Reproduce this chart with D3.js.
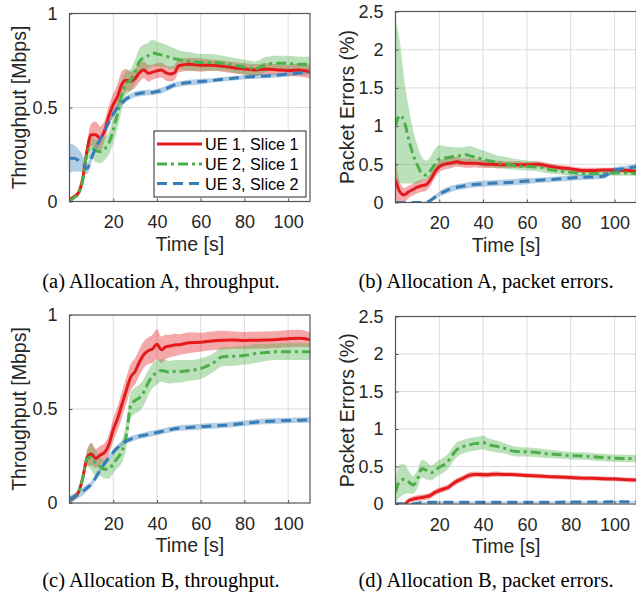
<!DOCTYPE html>
<html><head><meta charset="utf-8">
<script src="https://cdn.jsdelivr.net/npm/d3@7"></script>
<style>body{margin:0;background:#fff}svg{display:block}</style>
</head><body><svg id="chart" width="636" height="597"></svg>
<script>
// ---------- data ----------
const times = [0,2,4,6,8,10,12,14,16,18,20,22,24,26,28,30,32,34,36,38,40,42,44,46,48,50,55,60,65,70,75,80,85,90,95,100,105,110];
const seriesNames = ["UE 1, Slice 1","UE 2, Slice 1","UE 3, Slice 2"];
const xTicks = [20,40,60,80,100];
const thrTicks = [0,0.5,1];
const errTicks = [0,0.5,1,1.5,2,2.5];
const thrTickLabels = ["0","0.5","1"];
const errTickLabels = ["0","0.5","1","1.5","2","2.5"];
const captions = ["(a) Allocation A, throughput.","(b) Allocation A, packet errors.","(c) Allocation B, throughput.","(d) Allocation B, packet errors."];

// Allocation A, throughput [Mbps]
const thrA_ue1 = [0.01,0.025,0.045,0.12,0.27,0.355,0.355,0.335,0.375,0.455,0.515,0.56,0.625,0.645,0.64,0.655,0.685,0.70,0.682,0.688,0.695,0.70,0.685,0.678,0.685,0.722,0.73,0.725,0.725,0.72,0.712,0.705,0.70,0.705,0.70,0.697,0.70,0.69];
const thrA_ue1_sd = [0.01,0.01,0.015,0.025,0.045,0.06,0.07,0.065,0.055,0.055,0.06,0.065,0.07,0.06,0.05,0.05,0.05,0.045,0.045,0.04,0.04,0.04,0.04,0.04,0.04,0.035,0.035,0.035,0.03,0.03,0.03,0.03,0.03,0.03,0.03,0.03,0.035,0.035];
const thrA_ue2 = [0.0,0.02,0.04,0.11,0.26,0.29,0.27,0.265,0.28,0.31,0.38,0.47,0.57,0.63,0.645,0.69,0.745,0.765,0.775,0.79,0.785,0.78,0.775,0.765,0.76,0.755,0.745,0.74,0.74,0.735,0.725,0.715,0.705,0.73,0.735,0.735,0.73,0.73];
const thrA_ue2_sd = [0.01,0.01,0.015,0.03,0.045,0.055,0.06,0.06,0.06,0.06,0.07,0.08,0.08,0.065,0.06,0.065,0.07,0.07,0.07,0.07,0.065,0.065,0.06,0.06,0.055,0.05,0.05,0.045,0.045,0.04,0.04,0.04,0.04,0.04,0.04,0.04,0.04,0.04];
const thrA_ue3 = [0.23,0.23,0.22,0.2,0.175,0.23,0.285,0.33,0.375,0.42,0.465,0.50,0.525,0.545,0.56,0.57,0.575,0.578,0.58,0.58,0.585,0.59,0.60,0.61,0.62,0.625,0.633,0.638,0.643,0.65,0.655,0.662,0.665,0.668,0.672,0.677,0.683,0.69];
const thrA_ue3_sd = [0.08,0.07,0.06,0.045,0.03,0.025,0.02,0.018,0.016,0.015,0.015,0.015,0.015,0.015,0.015,0.015,0.015,0.015,0.015,0.015,0.015,0.015,0.015,0.015,0.015,0.015,0.015,0.015,0.012,0.012,0.012,0.012,0.012,0.012,0.012,0.012,0.012,0.012];

// Allocation A, packet errors [%]
const errA_ue1 = [0.30,0.14,0.10,0.14,0.17,0.20,0.22,0.235,0.30,0.40,0.47,0.50,0.51,0.52,0.535,0.52,0.515,0.515,0.515,0.51,0.505,0.50,0.50,0.498,0.495,0.495,0.495,0.495,0.50,0.475,0.455,0.44,0.42,0.42,0.425,0.425,0.42,0.41];
const errA_ue1_sd = [0.28,0.12,0.09,0.08,0.08,0.08,0.08,0.08,0.08,0.075,0.07,0.07,0.07,0.065,0.065,0.06,0.06,0.06,0.055,0.055,0.05,0.05,0.05,0.05,0.05,0.045,0.045,0.04,0.04,0.04,0.035,0.035,0.035,0.035,0.03,0.03,0.03,0.03];
const errA_ue2 = [1.0,1.14,1.06,0.83,0.63,0.49,0.38,0.36,0.42,0.50,0.565,0.58,0.59,0.60,0.605,0.615,0.625,0.61,0.595,0.58,0.565,0.55,0.54,0.525,0.515,0.505,0.48,0.47,0.465,0.43,0.41,0.395,0.38,0.38,0.38,0.385,0.385,0.38];
const errA_ue2_lo = [0.2,0.25,0.25,0.25,0.25,0.25,0.28,0.3,0.33,0.4,0.45,0.47,0.48,0.49,0.5,0.5,0.5,0.5,0.49,0.48,0.47,0.46,0.46,0.45,0.45,0.44,0.43,0.42,0.41,0.38,0.37,0.35,0.35,0.35,0.35,0.35,0.35,0.35];
const errA_ue2_hi = [2.4,2.1,1.6,1.25,0.95,0.75,0.6,0.55,0.6,0.7,0.75,0.74,0.73,0.73,0.72,0.72,0.73,0.74,0.72,0.7,0.68,0.66,0.64,0.62,0.61,0.6,0.57,0.55,0.53,0.5,0.47,0.45,0.43,0.43,0.43,0.43,0.42,0.42];
const errA_ue3 = [0,0,0,0,0,0,0,0.005,0.03,0.07,0.11,0.14,0.165,0.185,0.2,0.21,0.22,0.23,0.235,0.24,0.245,0.25,0.252,0.255,0.258,0.26,0.27,0.28,0.29,0.30,0.31,0.32,0.33,0.335,0.345,0.425,0.445,0.47];
const errA_ue3_sd = [0.005,0.005,0.005,0.005,0.005,0.005,0.005,0.01,0.02,0.03,0.035,0.04,0.04,0.04,0.04,0.04,0.04,0.04,0.04,0.04,0.04,0.04,0.04,0.04,0.04,0.04,0.04,0.04,0.035,0.035,0.035,0.035,0.035,0.035,0.035,0.035,0.035,0.035];

// Allocation B, throughput [Mbps]
const thrB_ue1 = [0.016,0.03,0.055,0.13,0.24,0.26,0.237,0.255,0.268,0.31,0.39,0.45,0.525,0.60,0.67,0.70,0.75,0.79,0.81,0.82,0.845,0.815,0.83,0.835,0.84,0.842,0.853,0.855,0.862,0.866,0.867,0.865,0.866,0.867,0.87,0.874,0.876,0.868];
const thrB_ue1_sd = [0.02,0.015,0.015,0.025,0.04,0.06,0.05,0.05,0.05,0.055,0.06,0.065,0.07,0.07,0.07,0.07,0.07,0.07,0.07,0.075,0.08,0.07,0.065,0.06,0.06,0.055,0.055,0.05,0.05,0.05,0.045,0.045,0.045,0.045,0.045,0.045,0.045,0.04];
const thrB_ue2 = [0.016,0.03,0.055,0.13,0.235,0.245,0.21,0.195,0.18,0.18,0.21,0.24,0.275,0.36,0.52,0.545,0.56,0.59,0.64,0.675,0.695,0.705,0.70,0.695,0.70,0.70,0.705,0.715,0.74,0.778,0.78,0.785,0.795,0.80,0.805,0.805,0.805,0.805];
const thrB_ue2_sd = [0.015,0.015,0.015,0.025,0.04,0.07,0.07,0.05,0.05,0.05,0.05,0.055,0.06,0.07,0.07,0.07,0.07,0.07,0.065,0.065,0.065,0.06,0.06,0.06,0.06,0.06,0.055,0.055,0.05,0.05,0.05,0.05,0.05,0.045,0.045,0.045,0.045,0.045];
const thrB_ue3 = [0.016,0.03,0.045,0.06,0.08,0.10,0.135,0.175,0.21,0.24,0.27,0.295,0.315,0.33,0.34,0.348,0.355,0.36,0.365,0.37,0.375,0.38,0.385,0.39,0.395,0.398,0.402,0.406,0.41,0.413,0.418,0.424,0.43,0.434,0.437,0.439,0.44,0.442];
const thrB_ue3_sd = [0.02,0.02,0.02,0.02,0.018,0.016,0.015,0.015,0.015,0.015,0.015,0.015,0.015,0.015,0.015,0.015,0.015,0.015,0.015,0.015,0.015,0.015,0.015,0.015,0.015,0.015,0.015,0.015,0.015,0.015,0.015,0.015,0.015,0.015,0.015,0.015,0.015,0.015];

// Allocation B, packet errors [%]
const errB_ue1 = [0,0,0,0.045,0.065,0.078,0.088,0.098,0.115,0.155,0.18,0.20,0.22,0.265,0.305,0.33,0.36,0.385,0.395,0.395,0.39,0.39,0.395,0.398,0.395,0.393,0.39,0.38,0.372,0.365,0.36,0.352,0.345,0.342,0.338,0.332,0.325,0.32];
const errB_ue1_sd = [0,0,0.005,0.03,0.035,0.04,0.04,0.04,0.04,0.04,0.04,0.04,0.04,0.04,0.04,0.04,0.04,0.04,0.035,0.035,0.035,0.035,0.035,0.035,0.035,0.03,0.03,0.03,0.03,0.03,0.03,0.03,0.03,0.03,0.03,0.03,0.03,0.03];
const errB_ue2 = [0.16,0.31,0.33,0.295,0.255,0.33,0.47,0.45,0.415,0.445,0.49,0.52,0.57,0.65,0.725,0.755,0.775,0.79,0.805,0.81,0.82,0.795,0.78,0.77,0.755,0.74,0.70,0.695,0.685,0.667,0.658,0.645,0.64,0.63,0.62,0.61,0.608,0.608];
const errB_ue2_sd = [0.15,0.22,0.2,0.15,0.12,0.12,0.12,0.12,0.1,0.1,0.1,0.1,0.1,0.1,0.1,0.09,0.09,0.09,0.09,0.09,0.09,0.085,0.08,0.08,0.075,0.07,0.065,0.06,0.06,0.055,0.05,0.05,0.05,0.05,0.05,0.05,0.05,0.05];
const errB_ue3 = [0,0,0,0,0.002,0.01,0.02,0.025,0.025,0.025,0.025,0.025,0.025,0.025,0.025,0.025,0.025,0.025,0.025,0.025,0.025,0.025,0.025,0.025,0.025,0.025,0.025,0.025,0.025,0.025,0.025,0.027,0.027,0.028,0.028,0.03,0.03,0.03];
const errB_ue3_sd = [0.005,0.005,0.005,0.005,0.008,0.01,0.01,0.01,0.01,0.01,0.01,0.01,0.01,0.01,0.01,0.01,0.01,0.01,0.01,0.01,0.01,0.01,0.01,0.01,0.01,0.01,0.01,0.01,0.01,0.01,0.01,0.01,0.01,0.01,0.01,0.01,0.01,0.01];

// ---------- styling ----------
const colors = ["#e41a1c","#4daf4a","#377eb8"];
const dashes = [null,"10,4,3,4","10,6"];
const sansFont = "'Liberation Sans', Arial, Helvetica, sans-serif";
const serifFont = "'Liberation Serif', 'Times New Roman', serif";

function band(mean, sd, lo, hi){
  return times.map((t,i)=>({t, m:mean[i],
    lo: lo ? lo[i] : mean[i]-sd[i],
    hi: hi ? hi[i] : mean[i]+sd[i]}));
}

const panels = [
  {id:"a", box:[69.5,310,13.5,201.5], ymax:1, ticks:thrTicks, tickLabels:thrTickLabels, ylabel:"Throughput [Mbps]", ylabelX:19, caption:captions[0], capX:161, capY:288, legend:true,
   series:[band(thrA_ue1,thrA_ue1_sd),band(thrA_ue2,thrA_ue2_sd),band(thrA_ue3,thrA_ue3_sd)]},
  {id:"b", box:[395.5,636.4,11.5,202.5], ymax:2.5, ticks:errTicks, tickLabels:errTickLabels, ylabel:"Packet Errors (%)", ylabelX:347, caption:captions[1], capX:486, capY:288, legend:false,
   series:[band(errA_ue1,errA_ue1_sd),band(errA_ue2,null,errA_ue2_lo,errA_ue2_hi),band(errA_ue3,errA_ue3_sd)]},
  {id:"c", box:[69.5,310,315,503], ymax:1, ticks:thrTicks, tickLabels:thrTickLabels, ylabel:"Throughput [Mbps]", ylabelX:19, caption:captions[2], capX:161, capY:587, legend:false,
   series:[band(thrB_ue1,thrB_ue1_sd),band(thrB_ue2,thrB_ue2_sd),band(thrB_ue3,thrB_ue3_sd)]},
  {id:"d", box:[395.5,636.4,316.5,504], ymax:2.5, ticks:errTicks, tickLabels:errTickLabels, ylabel:"Packet Errors (%)", ylabelX:347, caption:captions[3], capX:486, capY:587, legend:false,
   series:[band(errB_ue1,errB_ue1_sd),band(errB_ue2,errB_ue2_sd),band(errB_ue3,errB_ue3_sd)]}
];

const svg = d3.select("#chart");
svg.append("rect").attr("width",636).attr("height",597).attr("fill","#fff");

panels.forEach(p=>{
  const [x0,x1,y0,y1] = p.box;
  const x = d3.scaleLinear().domain([0,110]).range([x0,x1]);
  const y = d3.scaleLinear().domain([0,p.ymax]).range([y1,y0]);
  const g = svg.append("g");

  // clip
  const clipId = "clip-"+p.id;
  svg.append("clipPath").attr("id",clipId).append("rect")
    .attr("x",x0).attr("y",y0).attr("width",x1-x0).attr("height",y1-y0);

  // grid
  g.append("g").selectAll("line.gx").data(xTicks).join("line")
    .attr("x1",d=>x(d)).attr("x2",d=>x(d)).attr("y1",y0).attr("y2",y1)
    .attr("stroke","#dcdcdc").attr("stroke-width",1);
  g.append("g").selectAll("line.gy").data(p.ticks.filter(d=>d>0 && d<p.ymax)).join("line")
    .attr("x1",x0).attr("x2",x1).attr("y1",d=>y(d)).attr("y2",d=>y(d))
    .attr("stroke","#dcdcdc").attr("stroke-width",1);

  const plot = g.append("g").attr("clip-path",`url(#${clipId})`);
  const area = d3.area().x(d=>x(d.t)).y0(d=>y(d.lo)).y1(d=>y(d.hi)).curve(d3.curveMonotoneX);
  const line = d3.line().x(d=>x(d.t)).y(d=>y(d.m)).curve(d3.curveMonotoneX);

  p.series.forEach((s,i)=>{
    plot.append("path").attr("d",area(s)).attr("fill",colors[i]).attr("fill-opacity",0.38).attr("stroke","none");
  });
  p.series.forEach((s,i)=>{
    plot.append("path").attr("d",line(s)).attr("fill","none").attr("stroke",colors[i])
      .attr("stroke-width",3).attr("stroke-dasharray",dashes[i]);
  });

  // axes frame
  g.append("rect").attr("x",x0).attr("y",y0).attr("width",x1-x0).attr("height",y1-y0)
    .attr("fill","none").attr("stroke","#555").attr("stroke-width",1.2);

  // x axis ticks & labels
  const xa = g.append("g").attr("transform",`translate(0,${y1})`)
    .call(d3.axisBottom(x).tickValues(xTicks).tickSizeInner(-3).tickSizeOuter(0).tickPadding(14));
  xa.select(".domain").remove();
  xa.selectAll(".tick line").attr("stroke","#555");
  xa.selectAll("text").attr("font-family",sansFont).attr("font-size",18).attr("fill","#262626");

  const ya = g.append("g").attr("transform",`translate(${x0},0)`)
    .call(d3.axisLeft(y).tickValues(p.ticks).tickFormat((d,i)=>p.tickLabels[i]).tickSizeInner(-3).tickSizeOuter(0).tickPadding(12));
  ya.select(".domain").remove();
  ya.selectAll(".tick line").attr("stroke","#555");
  ya.selectAll("text").attr("font-family",sansFont).attr("font-size",18).attr("fill","#262626");

  // axis titles
  svg.append("text").attr("x",(x0+Math.min(x1,636))/2 - (x1>636?0:0)).attr("y",y1+49)
    .attr("text-anchor","middle").attr("font-family",sansFont).attr("font-size",19.5).attr("fill","#262626")
    .text("Time [s]")
    .attr("x", p.id==="b"||p.id==="d" ? x(50.5) : (x0+x1)/2);
  svg.append("text").attr("transform",`translate(${p.ylabelX},${(y0+y1)/2}) rotate(-90)`)
    .attr("text-anchor","middle").attr("dominant-baseline","central")
    .attr("font-family",sansFont).attr("font-size",19.5).attr("fill","#262626").text(p.ylabel);

  // caption
  svg.append("text").attr("x",p.capX).attr("y",p.capY).attr("text-anchor","middle")
    .attr("font-family",serifFont).attr("font-size",20.5).attr("fill","#000").text(p.caption);

  // legend
  if(p.legend){
    const lg = g.append("g");
    lg.append("rect").attr("x",154).attr("y",131).attr("width",152).attr("height",66)
      .attr("fill","#fff").attr("stroke","#262626").attr("stroke-width",1);
    const rows = [144,164,183.5];
    seriesNames.forEach((n,i)=>{
      lg.append("line").attr("x1",157).attr("x2",202).attr("y1",rows[i]).attr("y2",rows[i])
        .attr("stroke",colors[i]).attr("stroke-width",3).attr("stroke-dasharray",dashes[i]);
      lg.append("text").attr("x",205).attr("y",rows[i]).attr("dominant-baseline","central")
        .attr("font-family",sansFont).attr("font-size",16.2).attr("fill","#000").text(n);
    });
  }
});
</script>
</body></html>
